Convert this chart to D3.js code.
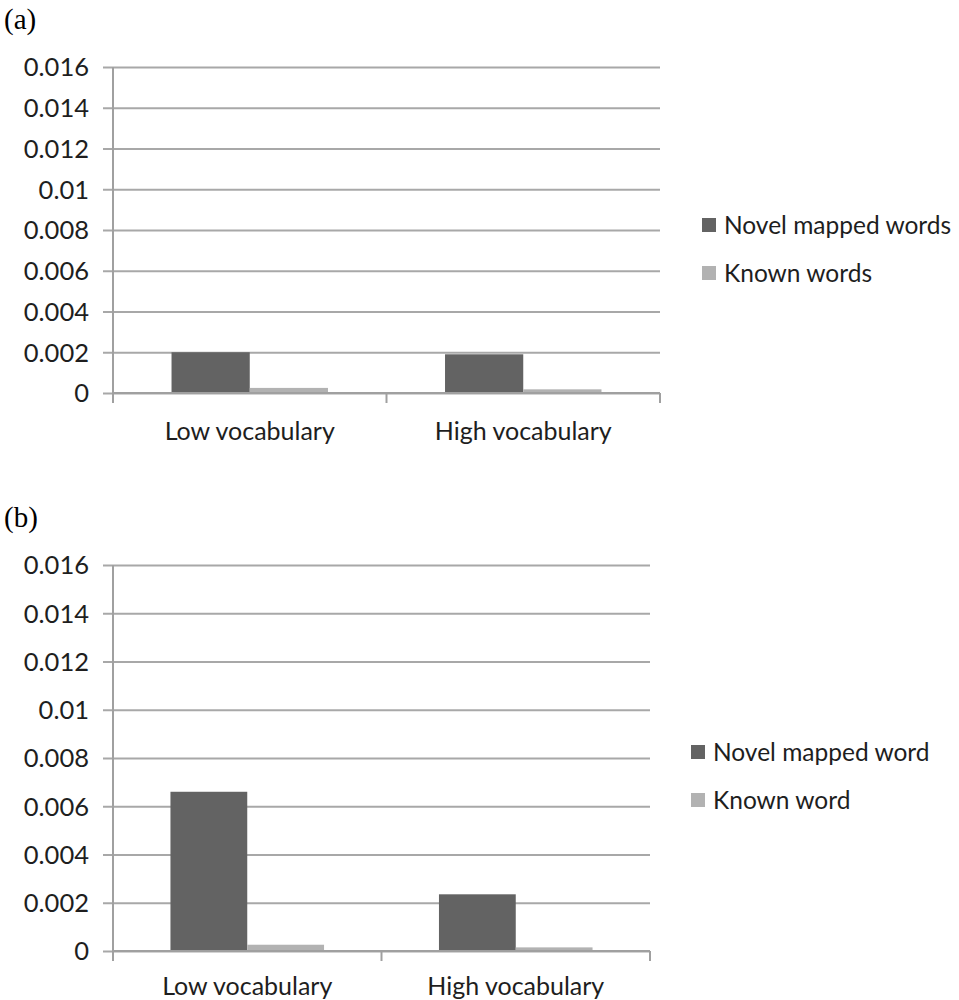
<!DOCTYPE html>
<html>
<head>
<meta charset="utf-8">
<script src="https://cdn.jsdelivr.net/npm/d3@7"></script>
<style>
  html, body { margin: 0; padding: 0; background: #fff; }
  svg text { font-family: "Lato", "Open Sans", sans-serif; fill: #1e1e1e; }
</style>
</head>
<body>
<svg id="chart" width="959" height="1000"></svg>
<script>
// Group labels on the x axis
const categories = ["Low vocabulary", "High vocabulary"];

// Panel (a)
const seriesA = ["Novel mapped words", "Known words"];
const novelA = [0.002, 0.0019];
const knownA = [0.00025, 0.00018];

// Panel (b)
const seriesB = ["Novel mapped word", "Known word"];
const novelB = [0.0066, 0.00235];
const knownB = [0.00026, 0.00015];

// Shared value axis
const yTicks = [0, 0.002, 0.004, 0.006, 0.008, 0.01, 0.012, 0.014, 0.016];
const yTickLabels = ["0", "0.002", "0.004", "0.006", "0.008", "0.01", "0.012", "0.014", "0.016"];

const colors = ["#636363", "#b2b2b2"];
const gridColor = "#a8a8a8";
const axisColor = "#a0a0a0";

const svg = d3.select("#chart");

function drawPanel(opts) {
  const { tag, tagY, left, right, top, bottom, series, values, legendX, legendY, catLabelY } = opts;
  const g = svg.append("g");

  g.append("text")
    .attr("x", 4).attr("y", tagY)
    .style("font-family", "'Liberation Serif', 'Times New Roman', serif")
    .style("font-size", "29px")
    .style("fill", "#000")
    .text(tag);

  const y = d3.scaleLinear().domain([0, 0.016]).range([bottom, top]);
  const x = d3.scaleBand().domain(categories).range([left, right])
    .paddingInner(0.428).paddingOuter(0.214);
  const xs = d3.scaleBand().domain(series).range([0, x.bandwidth()]);

  // horizontal gridlines with short ticks left of the axis
  const yAxis = d3.axisLeft(y)
    .tickValues(yTicks)
    .tickFormat((d, i) => yTickLabels[i])
    .tickSize(-(right - left))
    .tickSizeOuter(0);
  const ya = g.append("g").attr("transform", `translate(${left},0)`).call(yAxis);
  ya.select(".domain").remove();
  ya.selectAll(".tick line")
    .attr("x1", -10)
    .attr("stroke", gridColor).attr("stroke-width", 2);
  ya.selectAll(".tick text")
    .attr("x", -24)
    .attr("dy", "0.35em")
    .style("font-family", "'Lato', sans-serif")
    .style("font-size", "25.5px")
    .style("fill", "#1e1e1e");

  // bars
  series.forEach((s, si) => {
    g.append("g").selectAll("rect")
      .data(categories.map((c, ci) => ({ c, v: values[si][ci] })))
      .join("rect")
      .attr("x", d => x(d.c) + xs(s))
      .attr("width", xs.bandwidth())
      .attr("y", d => y(d.v))
      .attr("height", d => y(0) - y(d.v))
      .attr("fill", colors[si]);
  });

  // vertical axis line
  g.append("line")
    .attr("x1", left).attr("x2", left)
    .attr("y1", top).attr("y2", bottom + 10)
    .attr("stroke", axisColor).attr("stroke-width", 2);

  // category axis: baseline plus tick marks at group boundaries
  const step = x.step();
  const bounds = d3.range(categories.length + 1).map(i => left + i * step);
  g.append("line")
    .attr("x1", left).attr("x2", right)
    .attr("y1", bottom).attr("y2", bottom)
    .attr("stroke", axisColor).attr("stroke-width", 2);
  g.append("g").selectAll("line").data(bounds).join("line")
    .attr("x1", d => d).attr("x2", d => d)
    .attr("y1", bottom).attr("y2", bottom + 10)
    .attr("stroke", axisColor).attr("stroke-width", 2);

  g.append("g").selectAll("text").data(categories).join("text")
    .attr("x", d => x(d) + x.bandwidth() / 2)
    .attr("y", catLabelY)
    .attr("text-anchor", "middle")
    .attr("dy", "0.35em")
    .style("font-size", "25px")
    .text(d => d);

  // legend
  const lg = g.append("g");
  series.forEach((s, si) => {
    const ly = legendY + si * 48;
    lg.append("rect")
      .attr("x", legendX).attr("y", ly - 7)
      .attr("width", 14).attr("height", 14)
      .attr("fill", colors[si]);
    lg.append("text")
      .attr("x", legendX + 22).attr("y", ly)
      .attr("dy", "0.35em")
      .style("font-size", "24.5px")
      .text(s);
  });
}

drawPanel({
  tag: "(a)", tagY: 29,
  left: 113, right: 660, top: 67, bottom: 393,
  series: seriesA, values: [novelA, knownA],
  legendX: 702, legendY: 225, catLabelY: 431
});

drawPanel({
  tag: "(b)", tagY: 527,
  left: 113, right: 650, top: 565, bottom: 951,
  series: seriesB, values: [novelB, knownB],
  legendX: 691, legendY: 752, catLabelY: 986
});
</script>
</body>
</html>
